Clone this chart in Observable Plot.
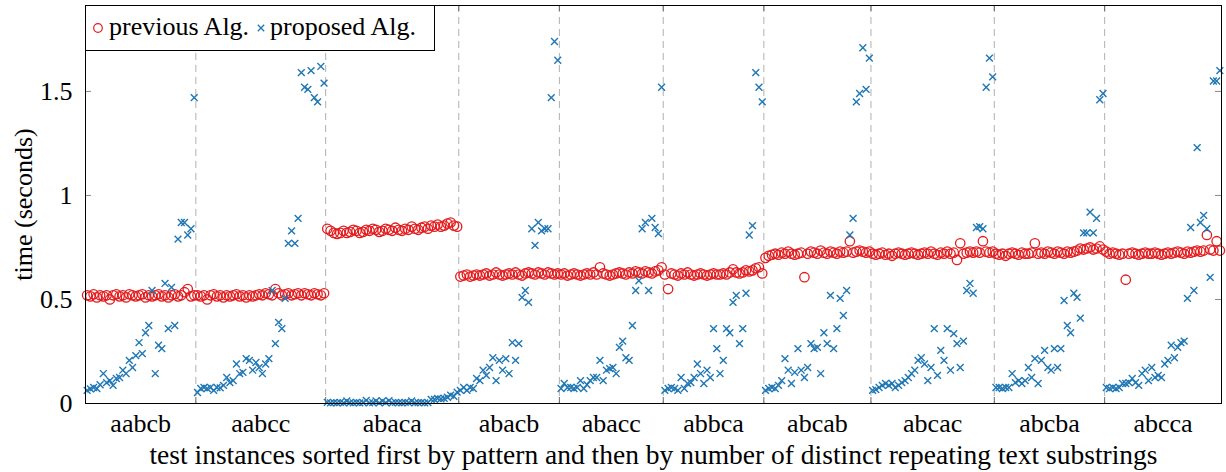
<!DOCTYPE html>
<html><head><meta charset="utf-8">
<script src="https://cdn.jsdelivr.net/npm/d3@7"></script>
<script src="https://cdn.jsdelivr.net/npm/@observablehq/plot@0.6"></script>
<style>html,body{margin:0;padding:0;background:#fff}svg{display:block}</style>
</head><body><div id="chart"></div>
<script>
const patterns = ["aabcb","aabcc","abaca","abacb","abacc","abbca","abcab","abcac","abcba","abcca"];
const yTicks = [0, 0.5, 1, 1.5];
const xLabel = "test instances sorted first by pattern and then by number of distinct repeating text substrings";
const yLabel = "time (seconds)";

// previous Alg. (seconds), per pattern
const prevAabcb = [0.52,0.515,0.525,0.51,0.52,0.515,0.52,0.50,0.52,0.525,0.515,0.52,0.51,0.525,0.52,0.515,0.52,0.525,0.51,0.52,0.515,0.52,0.525,0.515,0.52,0.51,0.52,0.525,0.515,0.52,0.535,0.55,0.515,0.52];
const prevAabcc = [0.52,0.515,0.52,0.50,0.52,0.525,0.515,0.52,0.51,0.52,0.515,0.52,0.525,0.515,0.52,0.51,0.52,0.515,0.52,0.525,0.52,0.53,0.525,0.52,0.55,0.53,0.52,0.525,0.53,0.52,0.525,0.53,0.52,0.53,0.525,0.52,0.53,0.525,0.52,0.53];
const prevAbaca = [0.84,0.83,0.82,0.815,0.82,0.83,0.82,0.825,0.835,0.83,0.82,0.825,0.835,0.83,0.84,0.835,0.825,0.83,0.84,0.835,0.83,0.845,0.835,0.83,0.84,0.835,0.85,0.84,0.835,0.845,0.85,0.84,0.855,0.85,0.86,0.85,0.855,0.865,0.87,0.855,0.85];
const prevAbacb = [0.61,0.615,0.62,0.61,0.615,0.62,0.615,0.62,0.625,0.615,0.62,0.63,0.62,0.615,0.62,0.625,0.62,0.63,0.62,0.615,0.625,0.63,0.625,0.62,0.63,0.625,0.62,0.63,0.625,0.62,0.625];
const prevAbacc = [0.62,0.625,0.615,0.62,0.625,0.62,0.615,0.62,0.625,0.62,0.63,0.62,0.655,0.625,0.62,0.615,0.62,0.625,0.63,0.625,0.62,0.63,0.625,0.635,0.63,0.625,0.635,0.63,0.625,0.635,0.64,0.655];
const prevAbbca = [0.62,0.55,0.625,0.62,0.615,0.625,0.62,0.63,0.62,0.615,0.62,0.625,0.62,0.615,0.62,0.625,0.62,0.62,0.625,0.62,0.63,0.645,0.63,0.625,0.63,0.64,0.635,0.64,0.65,0.655,0.625];
const prevAbcab = [0.70,0.71,0.715,0.72,0.715,0.725,0.72,0.73,0.72,0.715,0.72,0.725,0.607,0.72,0.73,0.725,0.72,0.735,0.725,0.72,0.73,0.725,0.72,0.73,0.725,0.73,0.78,0.725,0.73,0.735,0.73,0.725,0.73];
const prevAbcac = [0.72,0.715,0.72,0.725,0.715,0.72,0.71,0.72,0.725,0.72,0.715,0.72,0.725,0.72,0.715,0.72,0.725,0.72,0.73,0.72,0.715,0.725,0.72,0.73,0.72,0.725,0.69,0.77,0.72,0.725,0.73,0.725,0.73,0.725,0.78,0.73,0.725,0.73];
const prevAbcba = [0.72,0.715,0.72,0.71,0.72,0.725,0.72,0.715,0.725,0.72,0.72,0.725,0.77,0.72,0.725,0.72,0.73,0.725,0.72,0.73,0.725,0.72,0.73,0.725,0.73,0.735,0.745,0.74,0.745,0.75,0.74,0.745,0.755,0.74];
const prevAbcca = [0.73,0.72,0.725,0.72,0.715,0.72,0.595,0.72,0.725,0.72,0.715,0.72,0.725,0.72,0.72,0.725,0.72,0.715,0.72,0.725,0.72,0.725,0.73,0.725,0.72,0.73,0.725,0.73,0.735,0.73,0.735,0.81,0.74,0.735,0.78,0.735];

// proposed Alg. (seconds), per pattern
const propAabcb = [0.063,0.07,0.077,0.072,0.09,0.144,0.10,0.11,0.087,0.12,0.125,0.16,0.144,0.207,0.173,0.23,0.293,0.24,0.34,0.375,0.543,0.144,0.28,0.264,0.577,0.36,0.558,0.375,0.79,0.87,0.87,0.81,0.84,1.47];
const propAabcc = [0.053,0.072,0.077,0.072,0.077,0.063,0.077,0.075,0.087,0.125,0.10,0.11,0.19,0.144,0.15,0.216,0.207,0.16,0.197,0.173,0.144,0.19,0.216,0.543,0.288,0.39,0.36,0.505,0.77,0.83,0.77,0.89,1.59,1.52,1.51,1.60,1.47,1.45,1.62,1.54];
const propAbaca = [0.005,0.003,0.004,0.003,0.005,0.003,0.012,0.004,0.003,0.005,0.003,0.004,0.015,0.003,0.004,0.012,0.003,0.012,0.004,0.014,0.003,0.005,0.004,0.003,0.005,0.004,0.012,0.003,0.004,0.005,0.003,0.004,0.02,0.02,0.025,0.022,0.025,0.03,0.04,0.035,0.055];
const propAbacb = [0.063,0.077,0.063,0.077,0.072,0.12,0.11,0.16,0.135,0.173,0.22,0.11,0.207,0.16,0.216,0.144,0.293,0.207,0.288,0.51,0.543,0.486,0.84,0.76,0.87,0.83,0.84,0.84,1.47,1.74,1.65];
const propAbacc = [0.072,0.096,0.077,0.077,0.072,0.077,0.11,0.072,0.09,0.11,0.125,0.125,0.207,0.11,0.16,0.168,0.173,0.144,0.27,0.30,0.22,0.207,0.375,0.543,0.59,0.84,0.87,0.543,0.89,0.846,0.817,1.52];
const propAbbca = [0.063,0.072,0.077,0.072,0.063,0.125,0.072,0.096,0.10,0.125,0.19,0.144,0.096,0.16,0.125,0.36,0.264,0.144,0.207,0.36,0.34,0.486,0.52,0.288,0.36,0.53,0.81,0.855,1.59,1.52,1.45];
const propAbcab = [0.063,0.072,0.077,0.072,0.087,0.11,0.216,0.16,0.096,0.15,0.264,0.16,0.125,0.173,0.288,0.264,0.27,0.144,0.34,0.288,0.52,0.264,0.36,0.505,0.423,0.543,0.81,0.89,1.45,1.49,1.71,1.51,1.66];
const propAbcac = [0.063,0.067,0.077,0.087,0.096,0.087,0.096,0.077,0.087,0.10,0.11,0.125,0.144,0.16,0.207,0.22,0.19,0.11,0.173,0.36,0.135,0.255,0.207,0.36,0.16,0.336,0.288,0.173,0.30,0.543,0.577,0.53,0.846,0.85,0.84,1.52,1.66,1.57];
const propAbcba = [0.077,0.077,0.072,0.077,0.077,0.144,0.10,0.11,0.096,0.11,0.173,0.125,0.216,0.096,0.207,0.255,0.173,0.16,0.264,0.173,0.264,0.495,0.375,0.34,0.53,0.51,0.41,0.82,0.82,0.92,0.82,0.89,1.46,1.49];
const propAbcca = [0.077,0.072,0.077,0.072,0.077,0.096,0.096,0.10,0.12,0.10,0.087,0.144,0.16,0.11,0.173,0.125,0.135,0.125,0.19,0.207,0.28,0.22,0.27,0.293,0.30,0.505,0.846,0.543,1.23,0.87,0.904,0.84,0.606,1.55,1.55,1.60];

const previous = [prevAabcb,prevAabcc,prevAbaca,prevAbacb,prevAbacc,prevAbbca,prevAbcab,prevAbcac,prevAbcba,prevAbcca];
const proposed = [propAabcb,propAabcc,propAbaca,propAbacb,propAbacc,propAbbca,propAbcab,propAbcac,propAbcba,propAbcca];

const rows = [], boundaries = [], centers = [];
let k = 0;
patterns.forEach((p, g) => {
  const n = previous[g].length;
  centers.push(k + n / 2);
  previous[g].forEach((v, j) => rows.push({i: k + j + 0.5, prev: v, prop: proposed[g][j]}));
  k += n;
  if (g < patterns.length - 1) boundaries.push(k);
});
const labelAt = new Map(centers.map((c, i) => [c, patterns[i]]));

const FONT = "'Liberation Serif', 'DejaVu Serif', serif";
const RED = "#e41a1c", BLUE = "#1f77b4";
const chart = Plot.plot({
  width: 1226, height: 472,
  marginLeft: 85, marginRight: 5, marginTop: 5, marginBottom: 69,
  style: {fontFamily: FONT, fontSize: "26px", background: "white", color: "black"},
  x: {domain: [0, k], axis: null},
  y: {domain: [0, 1.913], axis: null},
  marks: [
    Plot.ruleX(boundaries, {stroke: "#b0b0b0", strokeDasharray: "7,5", strokeWidth: 1}),
    Plot.tickX(boundaries, {stroke: "#666", insetTop: 392}),
    Plot.tickX(boundaries, {stroke: "#666", insetBottom: 392}),
    Plot.tickY(yTicks, {stroke: "#888", insetRight: 1130}),
    Plot.tickY(yTicks, {stroke: "#888", insetLeft: 1130}),
    Plot.dot(rows, {x: "i", y: "prev", r: 4.7, stroke: RED, fill: "none", strokeWidth: 1.3}),
    Plot.dot(rows, {x: "i", y: "prop", symbol: "times", r: 3.2, stroke: BLUE, strokeWidth: 1.4}),
    Plot.frame({stroke: "black", strokeWidth: 1}),
    Plot.axisX({ticks: centers, tickFormat: d => labelAt.get(d), tickSize: 0, tickPadding: 10, label: null}),
    Plot.axisY({ticks: yTicks, tickFormat: d => String(d), tickSize: 0, tickPadding: 13, label: null}),
    Plot.text([xLabel], {frameAnchor: "bottom", dy: 60, lineAnchor: "bottom", textAnchor: "middle", text: d => d, fontSize: 27.5}),
    Plot.text([yLabel], {frameAnchor: "left", dx: -62, rotate: -90, lineAnchor: "middle", textAnchor: "middle", text: d => d})
  ]
});
document.getElementById("chart").appendChild(chart);

// legend box (inside the plot, top-left)
const svg = d3.select(chart);
const lg = svg.append("g").attr("font-family", FONT).attr("font-size", 26).attr("text-anchor", "start");
lg.append("rect").attr("x", 85.5).attr("y", 5.5).attr("width", 349).attr("height", 45)
  .attr("fill", "white").attr("stroke", "black");
lg.append("circle").attr("cx", 98).attr("cy", 28).attr("r", 4.3).attr("fill", "none").attr("stroke", RED).attr("stroke-width", 1.2);
lg.append("text").attr("x", 109).attr("y", 35).attr("text-anchor", "start").text("previous Alg.");
lg.append("path").attr("d", d3.symbol(d3.symbolTimes, Math.PI * 9)()).attr("transform", "translate(261,28)")
  .attr("fill", "none").attr("stroke", BLUE).attr("stroke-width", 1.3);
lg.append("text").attr("x", 270).attr("y", 35).attr("text-anchor", "start").text("proposed Alg.");
</script>
</body></html>
